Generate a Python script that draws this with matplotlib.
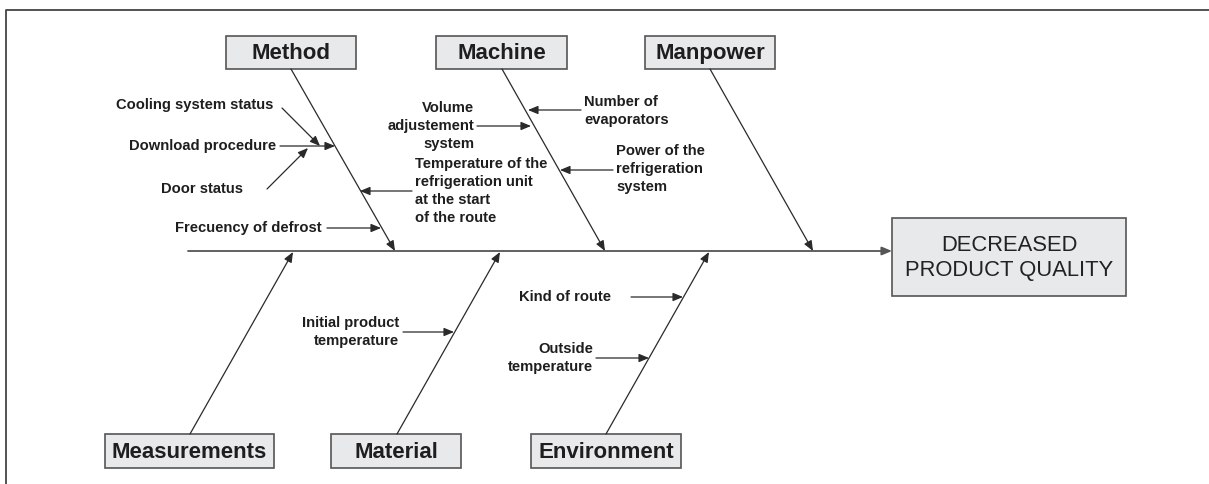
import matplotlib
matplotlib.use('Agg')
import matplotlib.pyplot as plt
from matplotlib.patches import Rectangle

plt.rcParams['font.family'] = ['Liberation Sans', 'DejaVu Sans']

# ---------------- data ----------------
effect_label = "DECREASED\nPRODUCT QUALITY"

top_categories = ["Method", "Machine", "Manpower"]
bottom_categories = ["Measurements", "Material", "Environment"]

# sub-cause labels
cause_labels = [
    "Cooling system status",
    "Download procedure",
    "Door status",
    "Frecuency of defrost",
    "Temperature of the\nrefrigeration unit\nat the start\nof the route",
    "Volume\nadjustement\nsystem",
    "Number of\nevaporators",
    "Power of the\nrefrigeration\nsystem",
    "Initial product\ntemperature",
    "Kind of route",
    "Outside\ntemperature",
]

# ---------------- layout (pixel coords) ----------------
W, H = 1209, 484
spine_y = 251
spine_x0, spine_x1 = 188, 892
effect_box = (892, 218, 234, 78)

top_boxes = [(226, 36, 130, 33), (436, 36, 131, 33), (645, 36, 130, 33)]
top_bones = [((291, 69), (395, 251)), ((502, 69), (605, 251)), ((710, 69), (813, 251))]
bot_boxes = [(105, 434, 169, 34), (331, 434, 130, 34), (531, 434, 150, 34)]
bot_bones = [((190, 434), (293, 252)), ((397, 434), (500, 252)), ((606, 434), (709, 252))]

# label anchor (x, y, ha), arrow start, arrow tip
cause_layout = [
    ((273, 105, 'right'), (282, 108), (320, 146)),
    ((276, 146, 'right'), (280, 146), (335, 146)),
    ((243, 189, 'right'), (267, 189), (308, 148)),
    ((322, 228, 'right'), (327, 228), (381, 228)),
    ((415, 191, 'left'), (412, 191), (360, 191)),
    ((474, 126, 'right'), (477, 126), (531, 126)),
    ((584, 111, 'left'), (581, 110), (528, 110)),
    ((616, 169, 'left'), (613, 170), (560, 170)),
    ((399, 332, 'right'), (403, 332), (454, 332)),
    ((611, 297, 'right'), (631, 297), (683, 297)),
    ((593, 358, 'right'), (596, 358), (649, 358)),
]

line_col = '#2a2a2a'
box_fc = '#e8e9ea'
box_ec = '#555555'

fig = plt.figure(figsize=(W / 100, H / 100), dpi=100)
ax = fig.add_axes([0, 0, 1, 1])
ax.set_xlim(0, W)
ax.set_ylim(H, 0)
ax.axis('off')

# frame (left and top only)
ax.plot([6, 6, W], [H, 10, 10], color='#444444', lw=1.3, solid_capstyle='butt')


def arrow(start, tip, col=line_col, lw=0.9):
    ax.annotate('', xy=tip, xytext=start,
                arrowprops=dict(arrowstyle='-|>,head_length=0.6,head_width=0.25',
                                color=col, lw=lw, shrinkA=0, shrinkB=0,
                                mutation_scale=10))


def box(rect, label, **kw):
    x, y, w, h = rect
    ax.add_patch(Rectangle((x, y), w, h, fc=box_fc, ec=box_ec, lw=1.2, zorder=3))
    ax.text(x + w / 2, y + h / 2 + 1, label, ha='center', va='center', zorder=4, **kw)


# spine
arrow((spine_x0, spine_y), (spine_x1, spine_y), col='#555555', lw=1.3)
box(effect_box, effect_label, fontsize=15.8, color='#222222', linespacing=1.2)

for lab, rect, (s, t) in zip(top_categories, top_boxes, top_bones):
    box(rect, lab, fontsize=16, fontweight='bold', color='#1e1e1e')
    arrow(s, t)

for lab, rect, (s, t) in zip(bottom_categories, bot_boxes, bot_bones):
    box(rect, lab, fontsize=16, fontweight='bold', color='#1e1e1e')
    arrow(s, t)

for lab, ((tx, ty, ha), s, t) in zip(cause_labels, cause_layout):
    ax.text(tx, ty, lab, ha=ha, va='center', multialignment=ha, fontsize=10.6,
            fontweight='bold', color='#1e1e1e', linespacing=1.35)
    arrow(s, t)

fig.savefig('out.png', dpi=100)
